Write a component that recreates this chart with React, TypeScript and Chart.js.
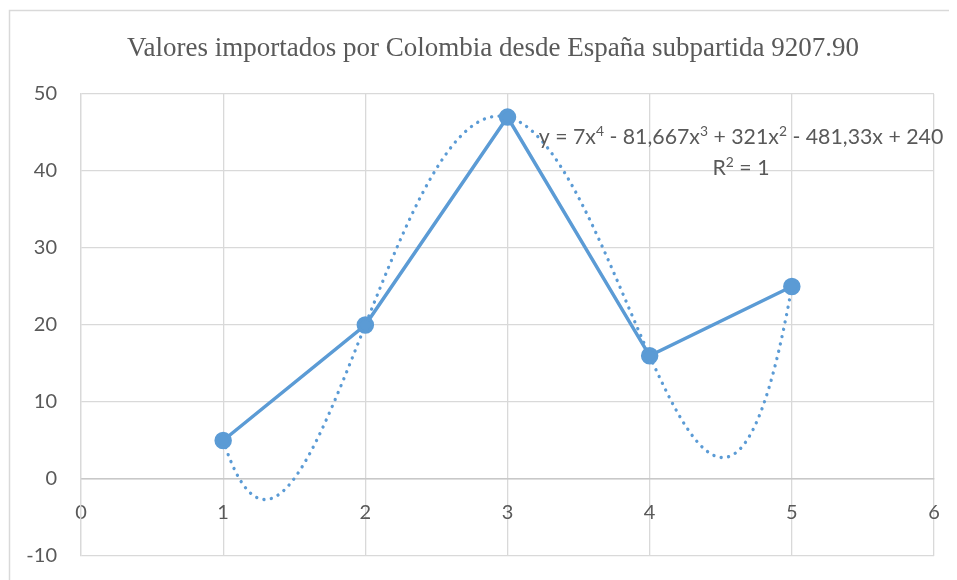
import React, { useEffect, useRef } from "react";
import { Chart, registerables } from "chart.js";
Chart.register(...registerables);

const xValues = [1, 2, 3, 4, 5];
const yValues = [5, 20, 47, 16, 25];
// polynomial trendline coefficients, highest power first (x^4 ... x^0), as printed on the chart
const trendCoefficients = [7, -81.667, 321, -481.33, 240];
const xTickValues = [0, 1, 2, 3, 4, 5, 6];
const yTickValues = [-10, 0, 10, 20, 30, 40, 50];
const titleText = "Valores importados por Colombia desde España subpartida 9207.90";
const equationLine1 = [
  { t: "y = 7x" }, { t: "4", sup: true },
  { t: " - 81,667x" }, { t: "3", sup: true },
  { t: " + 321x" }, { t: "2", sup: true },
  { t: " - 481,33x + 240" },
];
const equationLine2 = [{ t: "R" }, { t: "2", sup: true }, { t: " = 1" }];

const BLUE = "#5B9BD5";
const TEXT = "#595959";
const GRID = "#d9d9d9";
const SANS = "Lato";

function evalPoly(coefs: number[], x: number) {
  let v = 0;
  for (const c of coefs) v = v * x + c;
  return v;
}

function trendPoints() {
  const pts: { x: number; y: number }[] = [];
  const x0 = xValues[0];
  const x1 = xValues[xValues.length - 1];
  const n = 400;
  for (let i = 0; i <= n; i++) {
    const x = x0 + ((x1 - x0) * i) / n;
    pts.push({ x, y: evalPoly(trendCoefficients, x) });
  }
  return pts;
}

function drawRich(ctx: CanvasRenderingContext2D, parts: { t: string; sup?: boolean }[], cx: number, baseline: number, size: number) {
  const supSize = size * 0.65;
  let w = 0;
  for (const p of parts) {
    ctx.font = `${p.sup ? supSize : size}px ${SANS}`;
    w += ctx.measureText(p.t).width;
  }
  let x = cx - w / 2;
  ctx.textAlign = "left";
  ctx.textBaseline = "alphabetic";
  for (const p of parts) {
    ctx.font = `${p.sup ? supSize : size}px ${SANS}`;
    ctx.fillText(p.t, x, p.sup ? baseline - size * 0.36 : baseline);
    x += ctx.measureText(p.t).width;
  }
}

const decorPlugin = {
  id: "decor",
  afterDraw(chart: any) {
    const ctx = chart.ctx as CanvasRenderingContext2D;
    ctx.save();
    // chart outer border (left and top visible)
    ctx.strokeStyle = GRID;
    ctx.lineWidth = 1.5;
    ctx.beginPath();
    ctx.moveTo(1.5, chart.height);
    ctx.lineTo(1.5, 2.5);
    ctx.lineTo(chart.width, 2.5);
    ctx.stroke();
    // title
    ctx.fillStyle = TEXT;
    ctx.font = `27px "Liberation Serif"`;
    ctx.textAlign = "center";
    ctx.textBaseline = "alphabetic";
    ctx.fillText(titleText, 485, 48);
    // trendline equation
    ctx.fillStyle = TEXT;
    drawRich(ctx, equationLine1, 733, 136, 21.3);
    drawRich(ctx, equationLine2, 733, 167, 21.3);
    ctx.restore();
  },
};

export default function App() {
  const ref = useRef<HTMLCanvasElement>(null);
  useEffect(() => {
    let chart: Chart | null = null;
    let cancelled = false;
    const build = () => {
      if (cancelled || !ref.current) return;
      chart = new Chart(ref.current, {
        type: "scatter",
        data: {
          datasets: [
            {
              data: xValues.map((x, i) => ({ x, y: yValues[i] })),
              showLine: true,
              borderColor: BLUE,
              backgroundColor: BLUE,
              borderWidth: 3.5,
              pointRadius: 7,
              pointBackgroundColor: BLUE,
              pointBorderColor: BLUE,
              tension: 0,
            },
            {
              data: trendPoints(),
              showLine: true,
              borderColor: BLUE,
              borderWidth: 3.3,
              borderDash: [0.1, 7.4],
              borderCapStyle: "round",
              pointRadius: 0,
              tension: 0,
            },
          ],
        } as any,
        options: {
          responsive: false,
          animation: false,
          layout: { padding: { top: 86, right: 23, bottom: 24, left: 0 } },
          plugins: { legend: { display: false }, tooltip: { enabled: false }, title: { display: false } },
          scales: {
            x: {
              type: "linear",
              position: { y: 0 } as any,
              min: 0,
              max: 6,
              afterBuildTicks: (s: any) => { s.ticks = xTickValues.map((v) => ({ value: v })); },
              afterFit: (s: any) => { s.height = 0; s.paddingLeft = 0; s.paddingRight = 0; },
              ticks: { font: { family: SANS, size: 20 }, color: TEXT, padding: 22 },
              grid: { color: GRID, drawTicks: false, lineWidth: 1.3 },
              border: { color: "#c8c8c8", width: 1.5 },
            },
            y: {
              type: "linear",
              min: -10,
              max: 50,
              afterBuildTicks: (s: any) => { s.ticks = yTickValues.map((v) => ({ value: v })); },
              afterFit: (s: any) => { s.width = 73; s.paddingTop = 0; s.paddingBottom = 0; },
              ticks: { font: { family: SANS, size: 20 }, color: TEXT, padding: 24 },
              grid: { color: GRID, drawTicks: false, lineWidth: 1.3 },
              border: { color: GRID, width: 1.3 },
            },
          },
        } as any,
        plugins: [decorPlugin],
      });
    };
    const fontsReady = (document as any).fonts
      ? Promise.all([
          (document as any).fonts.load(`20px ${SANS}`),
          (document as any).fonts.load(`26px "Liberation Serif"`),
        ]).catch(() => null)
      : Promise.resolve(null);
    fontsReady.then(build);
    return () => {
      cancelled = true;
      if (chart) chart.destroy();
    };
  }, []);
  return (
    <div style={{ width: 949, height: 572 }}>
      <canvas ref={ref} width={949} height={572} style={{ display: "block" }} />
    </div>
  );
}
